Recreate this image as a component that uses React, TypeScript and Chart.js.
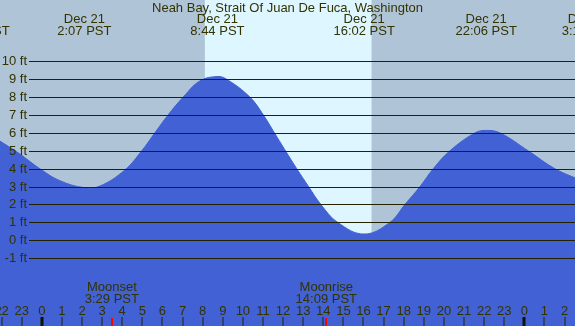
import React, { useEffect, useRef } from "react";
import { Chart, registerables } from "chart.js";

Chart.register(...registerables);

// Tide curve samples (hours from midnight Dec 21, feet)
const tideHours = [-2.3, -1.09, -0.1, 0.9, 2.12, 2.89, 4.13, 4.97, 5.62, 6.28, 7.03, 7.86, 8.73, 9.19, 10.35, 11.02, 11.57, 12.12, 12.68, 13.27, 13.88, 14.72, 16.03, 17.31, 18.06, 18.81, 19.47, 20.3, 21.54, 22.1, 22.79, 24.19, 25.52, 26.7];
const tideFeet = [5.7, 4.82, 4.0, 3.33, 2.94, 3.03, 3.93, 5.0, 6.0, 7.0, 8.0, 8.9, 9.15, 9.0, 8.0, 7.0, 6.0, 5.0, 4.0, 3.0, 2.0, 1.0, 0.35, 1.0, 2.0, 3.0, 4.0, 5.0, 6.0, 6.14, 6.0, 5.0, 4.0, 3.4];

// Tide extreme labels
const eventHours = [-3.13, 2.117, 8.733, 16.033, 22.1, 27.18];
const eventDates = ["Dec 20", "Dec 21", "Dec 21", "Dec 21", "Dec 21", "Dec 22"];
const eventTimes = ["20:52 PST", "2:07 PST", "8:44 PST", "16:02 PST", "22:06 PST", "3:11 PST"];

// Moon events
const moonHours = [3.483, 14.15];
const moonNames = ["Moonset", "Moonrise"];
const moonTimes = ["3:29 PST", "14:09 PST"];

// Daylight
const sunrise = 8.11;
const sunset = 16.4;

// Axis ticks
const footTicks = [-1, 0, 1, 2, 3, 4, 5, 6, 7, 8, 9, 10];
const hourTicks = [-2, -1, 0, 1, 2, 3, 4, 5, 6, 7, 8, 9, 10, 11, 12, 13, 14, 15, 16, 17, 18, 19, 20, 21, 22, 23, 24, 25, 26];
const hourLabels = ["22", "23", "0", "1", "2", "3", "4", "5", "6", "7", "8", "9", "10", "11", "12", "13", "14", "15", "16", "17", "18", "19", "20", "21", "22", "23", "0", "1", "2"];

const title = "Neah Bay, Strait Of Juan De Fuca, Washington";

const FONT = '13px "Liberation Sans", Arial, sans-serif';
const TEXT = "#333300";

const decor = {
  id: "decor",
  beforeDraw(chart: any) {
    const { ctx, width, height, scales } = chart;
    const x = scales.x;
    ctx.save();
    ctx.fillStyle = "#b0c4d8";
    ctx.fillRect(0, 0, width, height);
    const x0 = x.getPixelForValue(sunrise);
    const x1 = x.getPixelForValue(sunset);
    ctx.fillStyle = "#ddf6ff";
    ctx.fillRect(x0, 0, x1 - x0, height);
    ctx.restore();
  },
  afterDraw(chart: any) {
    const { ctx, width, height, scales } = chart;
    const x = scales.x;
    const y = scales.y;
    ctx.save();
    ctx.strokeStyle = "#222200";
    ctx.lineWidth = 1;
    ctx.font = FONT;
    ctx.fillStyle = TEXT;
    ctx.textAlign = "right";
    ctx.textBaseline = "middle";
    footTicks.forEach((v) => {
      const py = Math.round(y.getPixelForValue(v)) + 0.5;
      ctx.beginPath();
      ctx.moveTo(29, py);
      ctx.lineTo(width, py);
      ctx.stroke();
      ctx.fillText(`${v} ft`, 27, py);
    });
    ctx.textAlign = "center";
    ctx.fillText(title, width / 2, 8);
    eventHours.forEach((h, i) => {
      const px = x.getPixelForValue(h);
      ctx.fillText(eventDates[i], px, 19.5);
      ctx.fillText(eventTimes[i], px, 31.5);
    });
    moonHours.forEach((h, i) => {
      const px = x.getPixelForValue(h);
      ctx.fillText(moonNames[i], px, 287.5);
      ctx.fillText(moonTimes[i], px, 299.5);
      ctx.fillStyle = "#ff0000";
      ctx.fillRect(Math.round(px) - 1, 318, 2, height - 318);
      ctx.fillStyle = TEXT;
    });
    hourTicks.forEach((h, i) => {
      const px = x.getPixelForValue(h);
      ctx.fillStyle = TEXT;
      ctx.fillText(hourLabels[i], px, 311);
      const mid = hourLabels[i] === "0";
      ctx.fillStyle = mid ? "#111100" : "#222200";
      if (mid) ctx.fillRect(Math.round(px) - 1.5, 317, 3, height - 317);
      else ctx.fillRect(Math.round(px) - 0.5, 317, 1, height - 317);
    });
    ctx.restore();
  },
};

export default function App() {
  const ref = useRef<HTMLCanvasElement | null>(null);
  useEffect(() => {
    document.body.style.margin = "0";
    const canvas = ref.current;
    if (!canvas) return;
    const chart = new Chart(canvas, {
      type: "line",
      data: {
        datasets: [
          {
            data: tideHours.map((h, i) => ({ x: h, y: tideFeet[i] })),
            borderColor: "#4161d4",
            backgroundColor: "#4161d4",
            borderWidth: 1,
            pointRadius: 0,
            fill: "start",
            tension: 0.4,
          },
        ],
      },
      options: {
        animation: false,
        responsive: false,
        devicePixelRatio: 1,
        layout: { padding: 0 },
        plugins: { legend: { display: false }, tooltip: { enabled: false }, title: { display: false } },
        scales: {
          x: { type: "linear", min: -2.08, max: 26.52, display: false },
          y: { type: "linear", min: -4.788, max: 13.425, display: false },
        },
      },
      plugins: [decor],
    });
    return () => chart.destroy();
  }, []);
  return <canvas ref={ref} width={575} height={326} style={{ display: "block", width: 575, height: 326 }} />;
}
